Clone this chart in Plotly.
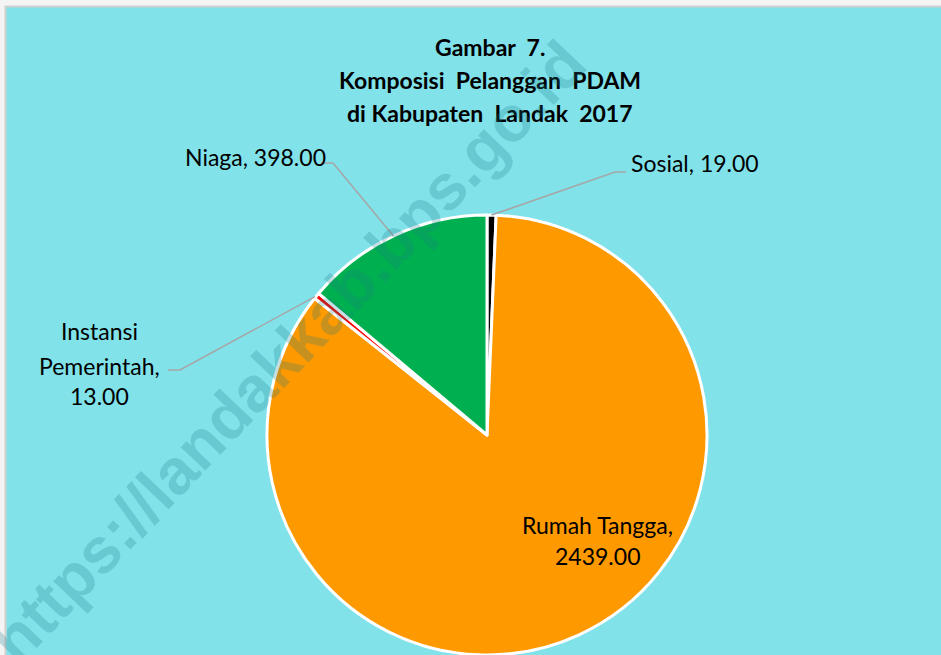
import math
import plotly.graph_objects as go

categories = ["Sosial", "Rumah Tangga", "Instansi Pemerintah", "Niaga"]
values = [19, 2439, 13, 398]
colors = ["#000000", "#FF9900", "#FF0000", "#00B050"]
title_lines = ["Gambar  7.", "Komposisi  Pelanggan  PDAM", "di Kabupaten  Landak  2017"]
watermark = "https://landakkab.bps.go.id"

W, H = 941, 655
BG = "#81E2EA"
FONT = "Lato"

# pie geometry (pixels)
cx, cy, r = 487, 437, 222


def px(x):
    return x / W


def py(y):
    return 1 - y / H


fig = go.Figure()
fig.add_trace(go.Pie(
    labels=categories,
    values=values,
    sort=False,
    direction="clockwise",
    rotation=0,
    marker=dict(colors=colors, line=dict(color="white", width=3)),
    textinfo="none",
    hoverinfo="label+value",
    showlegend=False,
    domain=dict(x=[px(cx - r), px(cx + r)], y=[0, (H - cy + r) / H]),
))

total = sum(values)
mids = {}
cum = 0
for c, v in zip(categories, values):
    mids[c] = (cum + v / 2) / total * 2 * math.pi
    cum += v


def edge(c):
    a = mids[c]
    return cx + r * math.sin(a), cy - r * math.cos(a)


shapes = [
    dict(type="rect", xref="paper", yref="paper", x0=px(5.5), x1=1.1, y0=-0.1, y1=py(6.5),
         fillcolor=BG, line=dict(color="#D0D0D0", width=2), layer="below"),
]

# leader lines: (category, elbow, end)
leaders = [
    ("Sosial", (615, 172), (626, 172)),
    ("Niaga", (333, 163), (321, 163)),
    ("Instansi Pemerintah", (180, 370), (168, 370)),
]
for c, (ex, ey), (tx, ty) in leaders:
    sx, sy = edge(c)
    path = f"M {px(sx)},{py(sy)} L {px(ex)},{py(ey)} L {px(tx)},{py(ty)}"
    shapes.append(dict(type="path", xref="paper", yref="paper", path=path,
                       line=dict(color="#A6A6A6", width=1.5)))

lab = {c: f"{v:.2f}" for c, v in zip(categories, values)}
LF = dict(family=FONT, size=23, color="black")
annotations = []
for line, yy in zip(title_lines, [47, 80, 113]):
    annotations.append(dict(x=px(490), y=py(yy), text=f"<b>{line}</b>",
                            font=dict(family=FONT, size=23, color="black"),
                            xanchor="center", yanchor="middle"))
annotations += [
    dict(x=px(629), y=py(163), text=f"Sosial, {lab['Sosial']}", xanchor="left", yanchor="middle", font=LF),
    dict(x=px(328), y=py(157), text=f"Niaga, {lab['Niaga']}", xanchor="right", yanchor="middle", font=LF),
]
for line, yy in zip(["Instansi", "Pemerintah,", lab["Instansi Pemerintah"]], [331, 366, 396]):
    annotations.append(dict(x=px(99), y=py(yy), text=line, xanchor="center", yanchor="middle", font=LF))
for line, yy in zip(["Rumah Tangga,", lab["Rumah Tangga"]], [525, 556]):
    annotations.append(dict(x=px(597), y=py(yy), text=line, xanchor="center", yanchor="middle", font=LF))
annotations.append(
    dict(x=px(288), y=py(352), text=f"<b>{watermark}</b>", textangle=-46.4,
         xanchor="center", yanchor="middle",
         font=dict(family="Liberation Sans", size=64, color="rgba(20,120,135,0.24)")))
for a in annotations:
    a.update(xref="paper", yref="paper", showarrow=False)

fig.update_layout(
    width=W, height=H,
    margin=dict(l=0, r=0, t=0, b=0),
    paper_bgcolor="#F4F4F4",
    plot_bgcolor=BG,
    shapes=shapes,
    annotations=annotations,
)

fig.write_html("out.html", config={"displayModeBar": False},
               post_script="document.body.style.margin='0';document.body.style.overflow='hidden';")
